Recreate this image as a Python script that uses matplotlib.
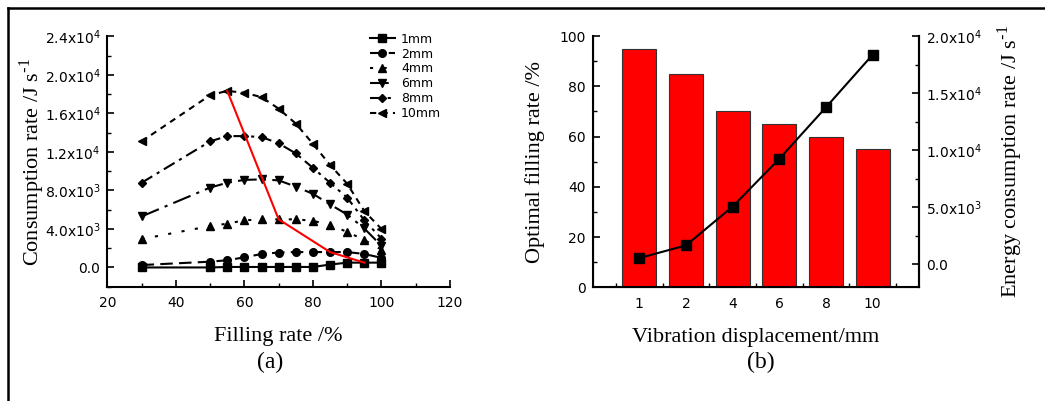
import matplotlib
matplotlib.use("Agg")
import matplotlib.pyplot as plt
from matplotlib.lines import Line2D
from matplotlib.ticker import FixedLocator, MultipleLocator

# ---------------- data ----------------
fill_rate = [30, 50, 55, 60, 65, 70, 75, 80, 85, 90, 95, 100]
series_labels = ["1mm", "2mm", "4mm", "6mm", "8mm", "10mm"]
rate_1mm = [0, 0, 50, 50, 50, 50, 50, 50, 300, 500, 500, 500]
rate_2mm = [250, 600, 750, 1050, 1400, 1550, 1600, 1600, 1600, 1600, 1400, 1000]
rate_4mm = [2950, 4300, 4550, 4900, 5000, 5000, 5000, 4850, 4400, 3700, 2850, 1850]
rate_6mm = [5300, 8300, 8800, 9100, 9150, 9050, 8400, 7650, 6550, 5500, 4050, 2250]
rate_8mm = [8800, 13100, 13650, 13650, 13550, 12900, 11850, 10350, 8800, 7250, 4900, 3000]
rate_10mm = [13100, 17900, 18350, 18150, 17700, 16500, 14950, 12850, 10650, 8700, 5850, 4000]
optimal_x = [55, 70, 85, 95]
optimal_y = [18350, 5000, 1600, 500]

displacement = ["1", "2", "4", "6", "8", "10"]
optimal_fill = [95, 85, 70, 65, 60, 55]
energy_rate = [560, 1670, 5070, 9250, 13760, 18360]

a_xticks = [20, 40, 60, 80, 100, 120]
a_yticks = [0, 4000, 8000, 12000, 16000, 20000, 24000]
a_yticklabels = ["0.0", r"4.0x10$^{\mathregular{3}}$", r"8.0x10$^{\mathregular{3}}$",
                 r"1.2x10$^{\mathregular{4}}$", r"1.6x10$^{\mathregular{4}}$",
                 r"2.0x10$^{\mathregular{4}}$", r"2.4x10$^{\mathregular{4}}$"]
b_lyticks = [0, 20, 40, 60, 80, 100]
b_ryticks = [0, 5000, 10000, 15000, 20000]
b_ryticklabels = ["0.0", r"5.0x10$^{\mathregular{3}}$", r"1.0x10$^{\mathregular{4}}$",
                  r"1.5x10$^{\mathregular{4}}$", r"2.0x10$^{\mathregular{4}}$"]

# ---------------- style ----------------
SANS = "DejaVu Sans"
SERIF = "Liberation Serif"
plt.rcParams["font.family"] = [SANS]
plt.rcParams["mathtext.fontset"] = "custom"
plt.rcParams["mathtext.rm"] = SANS

tick_fs = 10
label_fs = 16
sup_m1 = r"$^{\mathregular{\text{-}1}}$"

fig = plt.figure(figsize=(10.45, 4.01), dpi=100)

def style_ticks(ax, which_sides):
    ax.tick_params(which="major", direction="in", length=5, width=1.2,
                   labelsize=tick_fs, pad=5, **which_sides)
    ax.tick_params(which="minor", direction="in", length=3, width=1.0, **which_sides)

# ---------------- panel (a) ----------------
axa = fig.add_axes([107.3 / 1045, 1 - 286.7 / 401, 342.7 / 1045, 250.2 / 401])
styles = [
    dict(ls="-", marker="s"),
    dict(ls=(0, (6, 3)), marker="o"),
    dict(ls=(0, (1.5, 5)), marker="^"),
    dict(ls=(0, (9, 3, 1.5, 3)), marker="v"),
    dict(ls=(0, (6, 2.5, 1.5, 2.5)), marker="D"),
    dict(ls=(0, (3, 2.5)), marker="<"),
]
all_series = [rate_1mm, rate_2mm, rate_4mm, rate_6mm, rate_8mm, rate_10mm]
for lab, vals, st in zip(series_labels, all_series, styles):
    ms = 4.5 if st["marker"] == "D" else 5.5
    axa.plot(fill_rate, vals, color="black", lw=1.5, ms=ms, label=lab, **st)
axa.plot(optimal_x, optimal_y, color="#ff0000", lw=1.5, zorder=5)

axa.set_xlim(20, 120)
axa.set_ylim(-2000, 24000)
axa.xaxis.set_major_locator(FixedLocator(a_xticks))
axa.xaxis.set_minor_locator(MultipleLocator(10))
axa.yaxis.set_major_locator(FixedLocator(a_yticks))
axa.yaxis.set_minor_locator(MultipleLocator(2000))
axa.set_yticklabels(a_yticklabels)
for s in ["top", "right"]:
    axa.spines[s].set_visible(False)
for s in ["left", "bottom"]:
    axa.spines[s].set_linewidth(1.5)
style_ticks(axa, dict(left=True, bottom=True, right=False, top=False))
axa.tick_params(axis="x", pad=7)

leg = axa.legend(loc="upper right", bbox_to_anchor=(1.0, 1.05), frameon=False,
                 fontsize=9, handlelength=2.0, handletextpad=0.5,
                 labelspacing=0.15, borderpad=0.2)

axa.set_xlabel("Filling rate /%", family=SERIF, fontsize=label_fs, labelpad=12)
axa.set_ylabel("Consumption rate /J s" + sup_m1, family=SERIF, fontsize=label_fs)
axa.yaxis.set_label_coords(-0.176, 0.5)
fig.text(270 / 1045, 1 - 362 / 401, "(a)", family=SERIF, fontsize=17,
         ha="center", va="center")

# ---------------- panel (b) ----------------
axb = fig.add_axes([592.7 / 1045, 1 - 287.3 / 401, 326.6 / 1045, 251.3 / 401])
pos = list(range(len(displacement)))
axb.bar(pos, optimal_fill, width=0.73, color="#ff0000", edgecolor="#333333",
        linewidth=0.8, zorder=2)
axb.set_xlim(-1, len(displacement))
axb.set_ylim(0, 100)
axb.set_xticks(pos)
axb.set_xticklabels(displacement)
axb.xaxis.set_minor_locator(FixedLocator([p - 0.5 for p in range(len(displacement) + 1)]))
axb.yaxis.set_major_locator(FixedLocator(b_lyticks))
axb.yaxis.set_minor_locator(MultipleLocator(10))
axb.spines["top"].set_visible(False)
for s in ["left", "bottom", "right"]:
    axb.spines[s].set_linewidth(1.5)
style_ticks(axb, dict(left=True, bottom=True, right=False, top=False))
axb.tick_params(axis="x", pad=7)
axb.set_xlabel("Vibration displacement/mm", family=SERIF, fontsize=label_fs, labelpad=12)
axb.set_ylabel("Optimal filling rate /%", family=SERIF, fontsize=label_fs)
axb.yaxis.set_label_coords(-0.146, 0.5)

axr = axb.twinx()
axr.plot(pos, energy_rate, color="black", lw=1.5, marker="s", ms=6.5, zorder=5)
axr.set_ylim(-2000, 20000)
axr.yaxis.set_major_locator(FixedLocator(b_ryticks))
axr.yaxis.set_minor_locator(MultipleLocator(2500))
axr.set_yticklabels(b_ryticklabels)
axr.spines["top"].set_visible(False)
axr.spines["right"].set_linewidth(1.5)
axr.tick_params(which="major", direction="in", length=5, width=1.2,
                labelsize=tick_fs, pad=5, right=True, left=False)
axr.tick_params(which="minor", direction="in", length=3, width=1.0, right=True, left=False)
axr.set_ylabel("Energy consumption rate /J s" + sup_m1, family=SERIF, fontsize=label_fs)
axr.yaxis.set_label_coords(1.232, 0.5)
fig.text(761 / 1045, 1 - 362 / 401, "(b)", family=SERIF, fontsize=17,
         ha="center", va="center")

# ---------------- figure frame ----------------
fx = 8 / 1045
fy = 1 - 8 / 401
fig.add_artist(Line2D([fx, fx], [0, fy], transform=fig.transFigure, color="black", lw=1.8))
fig.add_artist(Line2D([fx, 1], [fy, fy], transform=fig.transFigure, color="black", lw=1.8))

fig.savefig("out.png", dpi=100)
